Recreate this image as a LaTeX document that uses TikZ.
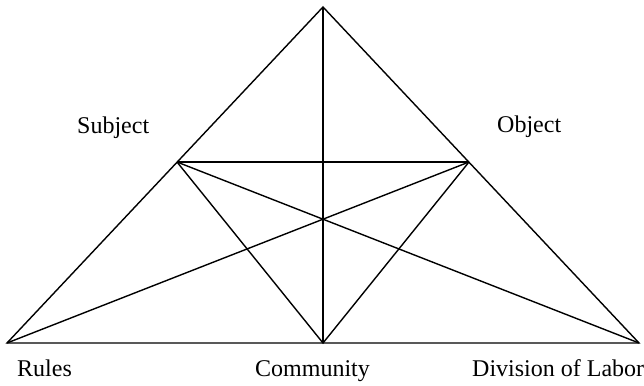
\documentclass[tikz,border=0pt]{standalone}
\usepackage{fontspec}
\setmainfont{Liberation Serif}
\tikzset{lbl/.style={inner sep=0pt,anchor=base west,font=\fontsize{24}{28}\selectfont}}
\tikzset{edge/.style={line width=1.4pt,line join=miter}}
\begin{document}
\begin{tikzpicture}[x=1pt,y=-1pt]
\useasboundingbox (0,0) rectangle (644,385);
\coordinate (top) at (323,7);
\coordinate (left) at (7,343);
\coordinate (right) at (639,343);
\coordinate (bottom) at (323,343);
\coordinate (midl) at (177,162);
\coordinate (midr) at (469,162);
\node[lbl] (subject) at (77,133) {Subject};
\node[lbl] (object) at (497,132) {Object};
\node[lbl] (rules) at (17,376) {Rules};
\node[lbl] (community) at (255,376) {Community};
\node[lbl] (division) at (472,376) {Division of Labor};
\draw[edge] (left) -- (top) -- (right) -- cycle;
\draw[edge] (top) -- (bottom);
\draw[edge] (midl) -- (midr);
\draw[edge] (midl) -- (right);
\draw[edge] (midr) -- (left);
\draw[edge] (midl) -- (bottom) -- (midr);
\end{tikzpicture}
\end{document}
